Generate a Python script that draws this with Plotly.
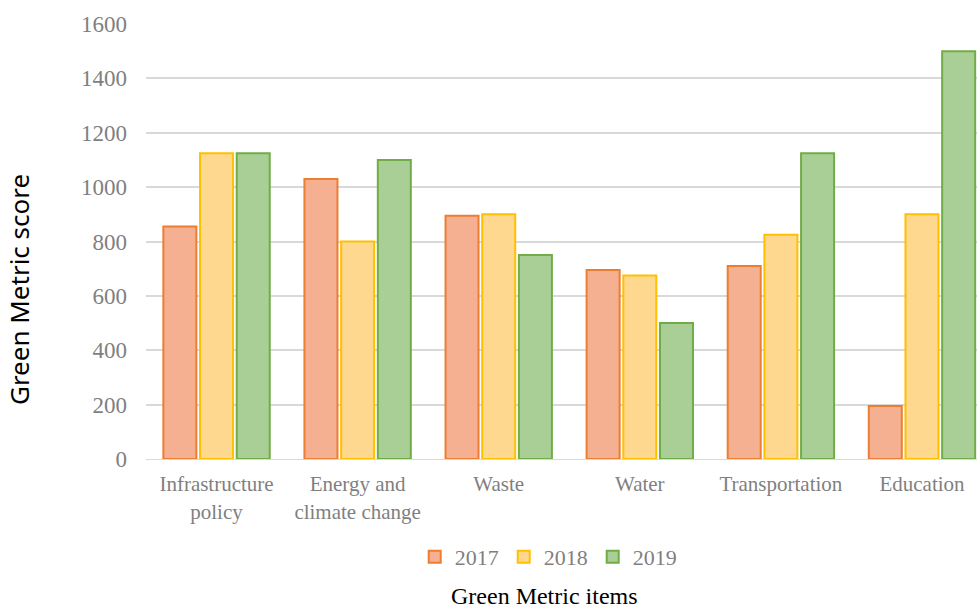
import plotly.graph_objects as go

categories = ["Infrastructure<br>policy", "Energy and<br>climate change", "Waste", "Water", "Transportation", "Education"]
years = ["2017", "2018", "2019"]
values_2017 = [855, 1030, 895, 695, 710, 195]
values_2018 = [1125, 800, 900, 675, 825, 900]
values_2019 = [1125, 1100, 750, 500, 1125, 1500]
y_ticks = [0, 200, 400, 600, 800, 1000, 1200, 1400, 1600]

series = [values_2017, values_2018, values_2019]
fills = ["#F5B092", "#FED88E", "#AACF96"]
borders = ["#ED7D31", "#FFC000", "#70AD47"]

fig = go.Figure()
for name, vals, fc, bc in zip(years, series, fills, borders):
    fig.add_trace(go.Bar(
        x=categories, y=vals, name=name,
        marker=dict(color=fc, line=dict(color=bc, width=2)),
    ))

serif = "Liberation Serif, Times New Roman, serif"
fig.update_layout(
    width=977, height=610,
    margin=dict(l=146, r=0, t=24, b=151),
    plot_bgcolor="white", paper_bgcolor="white",
    barmode="group", bargap=0.22, bargroupgap=0.1,
    font=dict(family=serif, color="#7F7F7F"),
    showlegend=True,
    legend=dict(orientation="h", x=0.484, xanchor="center", y=-0.225, yanchor="middle",
                font=dict(family=serif, size=22, color="#7F7F7F"),
                itemwidth=30, tracegroupgap=0),
    xaxis=dict(
        range=[-0.5, 5.39],
        showline=True, linecolor="#D9D9D9", linewidth=1,
        ticks="", tickfont=dict(family=serif, size=21, color="#7F7F7F"),
        ticklabelstandoff=6,
    ),
    yaxis=dict(
        range=[0, 1600], tickvals=y_ticks,
        showgrid=True, gridcolor="#D9D9D9", gridwidth=1.5,
        zeroline=False, showline=False, ticks="",
        tickfont=dict(family=serif, size=23, color="#7F7F7F"),
        ticklabelstandoff=18,
    ),
    annotations=[
        dict(text="Green Metric score", xref="paper", yref="paper", x=-0.152, y=0.39,
             textangle=-90, showarrow=False, xanchor="center", yanchor="middle",
             font=dict(family="Noto Sans, Open Sans, sans-serif", size=26, color="black")),
        dict(text="Green Metric items", xref="paper", yref="paper", x=0.48, y=-0.316,
             showarrow=False, xanchor="center", yanchor="middle",
             font=dict(family=serif, size=24, color="black")),
    ],
)

fig.write_html("out.html", config={"displayModeBar": False},
               post_script="document.body.style.margin='0';document.body.style.overflow='hidden';")
